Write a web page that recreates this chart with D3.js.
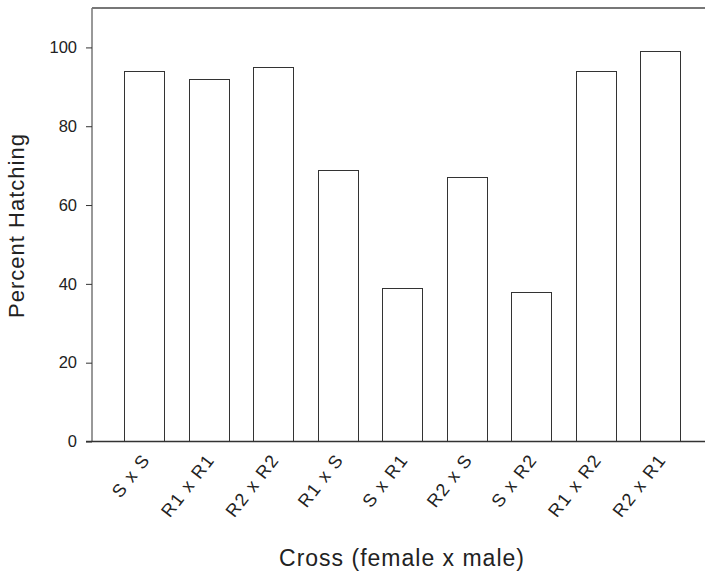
<!DOCTYPE html>
<html><head><meta charset="utf-8">
<script src="https://d3js.org/d3.v7.min.js"></script>
<style>body{margin:0;background:#fff}svg{display:block}text{font-family:"Liberation Sans",Arial,sans-serif;fill:#222}</style>
</head><body><svg id="c" width="705" height="572"></svg>
<script>
const categories = ["S x S","R1 x R1","R2 x R2","R1 x S","S x R1","R2 x S","S x R2","R1 x R2","R2 x R1"];
const values = [94, 92, 95, 69, 39, 67, 38, 94, 99];
const yTicks = [0, 20, 40, 60, 80, 100];

const svg = d3.select("#c");
const mLeft = 92, mRight = 705, mTop = 8, mBottom = 441.5;
const x = d3.scaleBand().domain(categories).range([111.75, 692.25]).paddingInner(0.38).paddingOuter(0.19);
const y = d3.scaleLinear().domain([0, 110]).range([mBottom, mTop]);
const col = "#333";
const ff = '"Liberation Sans",Arial,sans-serif';

// bars
svg.append("g").selectAll("rect").data(values).join("rect")
  .attr("x", (d,i) => Math.round(x(categories[i])) + 0.5)
  .attr("y", d => Math.round(y(d)) + 0.5)
  .attr("width", Math.round(x.bandwidth()))
  .attr("height", d => mBottom - Math.round(y(d)) - 0.5)
  .attr("fill", "#fff").attr("stroke", col).attr("stroke-width", 1);

// y axis
const ya = svg.append("g").attr("transform", `translate(${mLeft},0)`)
  .call(d3.axisLeft(y).tickValues(yTicks).tickSize(6).tickPadding(9));
ya.select(".domain").remove();
ya.selectAll("line").attr("stroke", col);
ya.selectAll("text").attr("font-size", 16.5).attr("fill", "#222").style("font-family", ff);
svg.append("line").attr("x1", mLeft).attr("x2", mLeft).attr("y1", mTop).attr("y2", mBottom).attr("stroke", col);
svg.append("line").attr("x1", mLeft).attr("x2", mRight).attr("y1", mTop).attr("y2", mTop).attr("stroke", "#777").attr("stroke-width", 2);

// x axis
const xa = svg.append("g").attr("transform", `translate(0,${mBottom})`)
  .call(d3.axisBottom(x).tickSize(0).tickPadding(0));
xa.select(".domain").remove();
xa.selectAll(".tick").attr("transform", d => `translate(${x(d) + x.bandwidth()/2},0)`);
xa.selectAll("text")
  .attr("font-size", 18).attr("fill", "#222").style("font-family", ff)
  .style("letter-spacing", "1.3px")
  .attr("text-anchor", "end").attr("dy", null).attr("y", null).attr("x", null)
  .attr("transform", `translate(7,${460 - mBottom}) rotate(-52)`);
svg.append("line").attr("x1", mLeft - 6).attr("x2", mRight).attr("y1", mBottom).attr("y2", mBottom).attr("stroke", col).attr("stroke-width", 1.5);

// titles
svg.append("text").attr("transform", "translate(24,225.5) rotate(-90)").attr("text-anchor", "middle")
  .attr("font-size", 22).style("letter-spacing", "1px").text("Percent Hatching");
svg.append("text").attr("x", 402).attr("y", 566).attr("text-anchor", "middle")
  .attr("font-size", 23).style("letter-spacing", "1px").text("Cross (female x male)");
</script></body></html>
